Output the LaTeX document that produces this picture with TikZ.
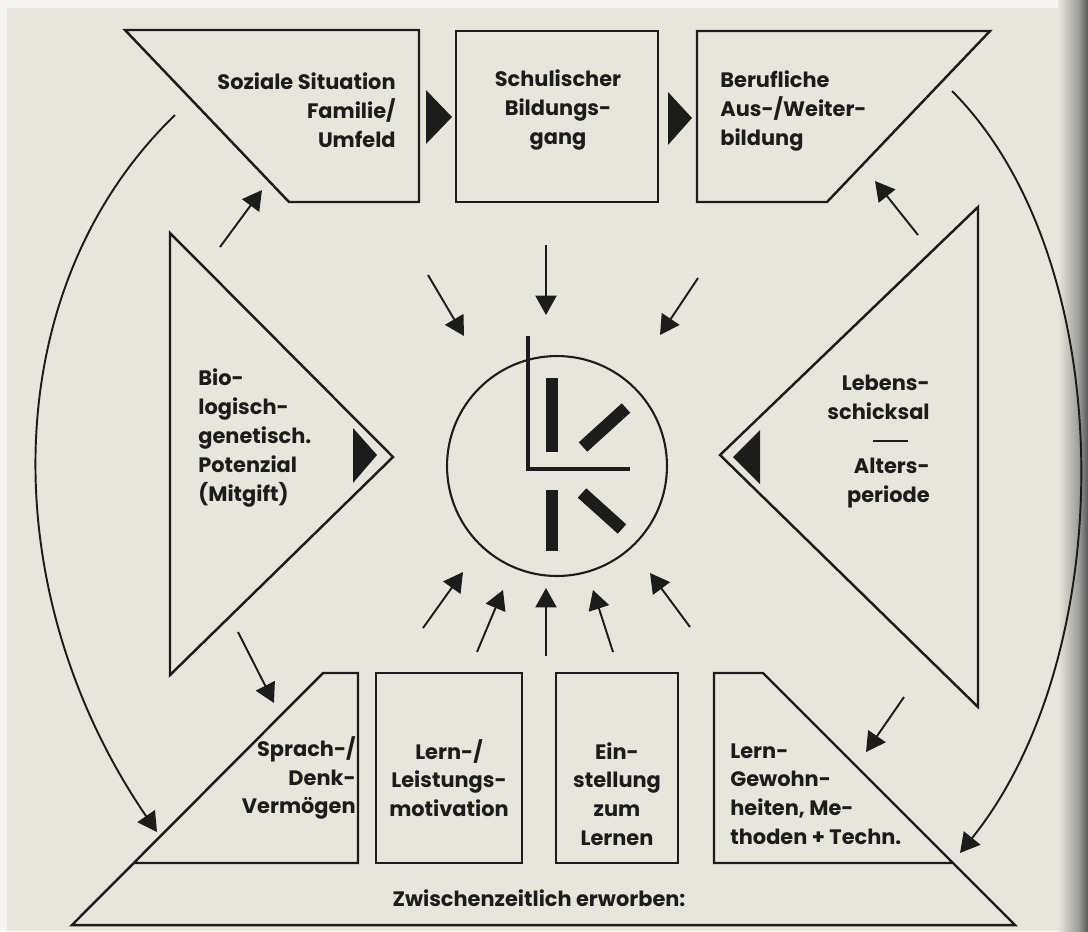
\documentclass[tikz,border=0pt]{standalone}
\usepackage{fontspec}
\setmainfont{Poppins}
\usetikzlibrary{arrows.meta}
\definecolor{paper}{HTML}{E8E6DC}
\definecolor{ink}{HTML}{1C1C1A}
\begin{document}
\begin{tikzpicture}[x=0.02cm,y=-0.02cm,
  outline/.style={draw=ink, line width=1.4pt, line join=miter},
  arr/.style={draw=ink, line width=1.1pt, -{Triangle[length=11pt,width=12pt]}},
  txt/.style={font=\fontsize{11.9}{16.4}\selectfont\bfseries, inner sep=0pt, text=ink},
  bar/.style={draw=ink, line width=7.2pt}
]
% background
\fill[white!60!paper] (0,0) rectangle (1088,931);
\fill[paper] (7,8) rectangle (1088,931);
\shade[left color=paper, right color=gray!70!paper] (1058,0) rectangle (1078,931);
\shade[left color=gray!70!paper, right color=black!65] (1078,0) rectangle (1088,931);
\useasboundingbox (0,0) rectangle (1088,931);

% top row
\draw[outline] (125,30) -- (419,30) -- (419,202) -- (289,202) -- cycle;
\draw[outline] (456,31) rectangle (658,202);
\draw[outline] (697,31) -- (990,31) -- (827,202) -- (697,202) -- cycle;
\fill[ink] (426,90) -- (452,117) -- (426,144) -- cycle;
\fill[ink] (668,92) -- (692,118) -- (668,145) -- cycle;

% side triangles
\draw[outline] (170,233) -- (393,457) -- (170,675) -- cycle;
\fill[ink] (353,428) -- (377,455) -- (353,483) -- cycle;
\draw[outline] (978,207) -- (720,455) -- (978,707) -- cycle;
\fill[ink] (760,430) -- (733,457) -- (760,484) -- cycle;

% bottom row
\draw[outline] (134,863) -- (358,863) -- (358,673) -- (323,673) -- (72,925) -- (1015,925)
  -- (763,673) -- (714,673) -- (714,863) -- (952,863);
\draw[outline] (376,673) rectangle (522,863);
\draw[outline] (556,673) rectangle (678,863);

% centre
\node[circle, draw=ink, line width=1.2pt, minimum size=4.4cm, inner sep=0pt] (core) at (557,466) {};
\draw[draw=ink, line width=2.6pt, line join=miter] (528,336) -- (528,469) -- (630,469);
\draw[bar] (552,378) -- (552,452);
\draw[bar] (583,447) -- (626,408);
\draw[bar] (552,490) -- (552,551);
\draw[bar] (582,493) -- (622,529);

% texts
\node[txt, align=right, anchor=east] (soz) at (396,110) {Soziale Situation\\Familie/\\Umfeld};
\node[txt, align=center] (schul) at (558,110) {Schulischer\\Bildungs-\\gang};
\node[txt, align=left, anchor=west] (beruf) at (720,111) {Berufliche\\Aus-/Weiter-\\bildung};
\node[txt, align=left, anchor=west] (bio) at (198,438) {Bio-\\logisch-\\genetisch.\\Potenzial\\(Mitgift)};
\node[txt, align=right, anchor=east] (leb) at (930,397) {Lebens-\\schicksal};
\draw[draw=ink, line width=1.3pt] (873,441) -- (908,441);
\node[txt, align=right, anchor=east] (alt) at (930,483) {Alters-\\periode};
\node[txt, align=right, anchor=east] (spr) at (356,778) {Sprach-/\\Denk-\\Vermögen};
\node[txt, align=center] (lern) at (449,778) {Lern-/\\Leistungs-\\motivation};
\node[txt, align=center] (einst) at (617,794) {Ein-\\stellung\\zum\\Lernen};
\node[txt, align=left, anchor=west] (gew) at (730,794) {Lern-\\Gewohn-\\heiten, Me-\\thoden + Techn.};
\node[txt] (zw) at (539,898) {Zwischenzeitlich erworben:};

% straight arrows
\coordinate (a1s) at (220,247); \coordinate (a1e) at (262,190);
\coordinate (a2s) at (428,275); \coordinate (a2e) at (464,336);
\coordinate (a3s) at (546,245); \coordinate (a3e) at (546,315);
\coordinate (a4s) at (698,278); \coordinate (a4e) at (660,335);
\coordinate (a5s) at (918,235); \coordinate (a5e) at (875,181);
\coordinate (a6s) at (238,632); \coordinate (a6e) at (274,703);
\coordinate (a7s) at (904,697); \coordinate (a7e) at (866,752);
\coordinate (b1s) at (423,628); \coordinate (b1e) at (463,572);
\coordinate (b2s) at (477,652); \coordinate (b2e) at (503,590);
\coordinate (b3s) at (546,656); \coordinate (b3e) at (546,588);
\coordinate (b4s) at (613,652); \coordinate (b4e) at (593,590);
\coordinate (b5s) at (690,627); \coordinate (b5e) at (650,573);
\foreach \a in {a1,a2,a3,a4,a5,a6,a7,b1,b2,b3,b4,b5}
  \draw[arr] (\a s) -- (\a e);

% curved arrows
\coordinate (c1s) at (175,115); \coordinate (c1e) at (157,832);
\coordinate (c2s) at (952,91);  \coordinate (c2e) at (960,853);
\draw[arr] (c1s) .. controls (-6,290) and (-6,594) .. (c1e);
\draw[arr] (c2s) .. controls (1121,260) and (1121,653) .. (c2e);
\end{tikzpicture}
\end{document}
